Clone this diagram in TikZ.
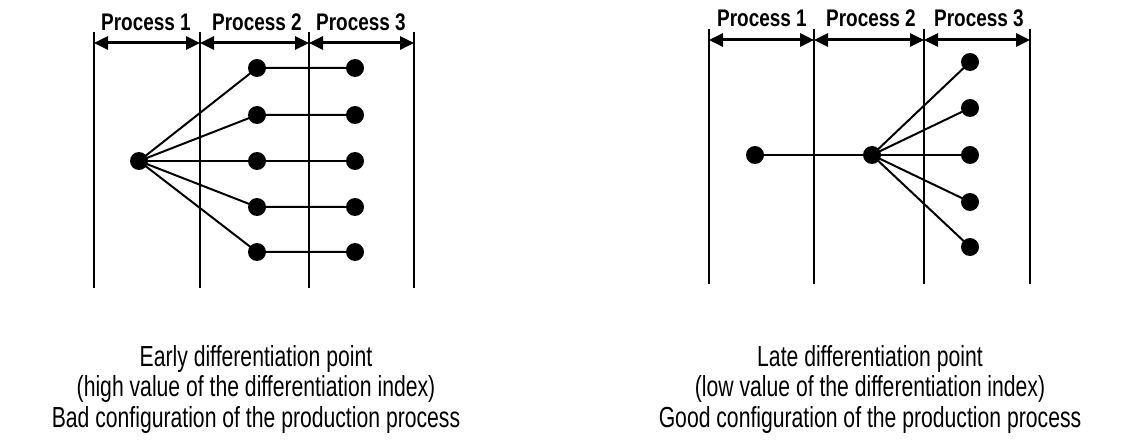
\documentclass[tikz,border=0pt]{standalone}
\usepackage{fontspec}
\setmainfont{Liberation Sans}[FakeStretch=0.73]
\newfontfamily\labelfont{Liberation Sans}[FakeStretch=0.79]
\usetikzlibrary{arrows.meta}
\tikzset{
  dot/.style={circle,fill=black,inner sep=0pt,minimum size=18pt},
  vline/.style={line width=2pt},
  link/.style={line width=2pt},
  span/.style={line width=3pt,{Triangle[length=14pt,width=13pt]}-{Triangle[length=14pt,width=13pt]}},
  plabel/.style={font=\labelfont\bfseries\fontsize{24}{25}\selectfont,anchor=base,inner sep=0pt},
  caption/.style={font=\fontsize{29}{30.5}\selectfont,align=center,anchor=base,inner sep=0pt}
}
\begin{document}
\begin{tikzpicture}[x=1pt,y=-1pt]
\useasboundingbox (0,0) rectangle (1129,446);
% ---------- left diagram ----------
\foreach \n/\x in {a/94,b/200,c/309,d/414}{
  \coordinate (L\n t) at (\x,32);
  \coordinate (L\n b) at (\x,288);
  \coordinate (L\n m) at (\x,43);
  \draw[vline] (L\n t) -- (L\n b);
}
\draw[span] (Lam) -- (Lbm);
\draw[span] (Lbm) -- (Lcm);
\draw[span] (Lcm) -- (Ldm);
\node[plabel] (Lp1) at (146,31) {Process 1};
\node[plabel] (Lp2) at (257,31) {Process 2};
\node[plabel] (Lp3) at (361,31) {Process 3};
\node[dot] (Ls) at (139,161) {};
\foreach \i/\y in {1/68,2/115,3/161,4/207,5/252}{
  \node[dot] (Lm\i) at (257,\y) {};
  \node[dot] (Le\i) at (355,\y) {};
  \draw[link] (Ls.center) -- (Lm\i.center) -- (Le\i.center);
}
\node[caption] (Lcap) at (256,427) {Early differentiation point\\(high value of the differentiation index)\\Bad configuration of the production process};
% ---------- right diagram ----------
\foreach \n/\x in {a/709,b/814,c/924,d/1030}{
  \coordinate (R\n t) at (\x,29);
  \coordinate (R\n b) at (\x,284);
  \coordinate (R\n m) at (\x,40);
  \draw[vline] (R\n t) -- (R\n b);
}
\draw[span] (Ram) -- (Rbm);
\draw[span] (Rbm) -- (Rcm);
\draw[span] (Rcm) -- (Rdm);
\node[plabel] (Rp1) at (762,27) {Process 1};
\node[plabel] (Rp2) at (871,27) {Process 2};
\node[plabel] (Rp3) at (979,27) {Process 3};
\node[dot] (Rs) at (755,155) {};
\node[dot] (Rh) at (872,155) {};
\draw[link] (Rs.center) -- (Rh.center);
\foreach \i/\y in {1/62,2/108,3/155,4/202,5/247}{
  \node[dot] (Re\i) at (970,\y) {};
  \draw[link] (Rh.center) -- (Re\i.center);
}
\node[caption] (Rcap) at (870,427) {Late differentiation point\\(low value of the differentiation index)\\Good configuration of the production process};
\end{tikzpicture}
\end{document}
